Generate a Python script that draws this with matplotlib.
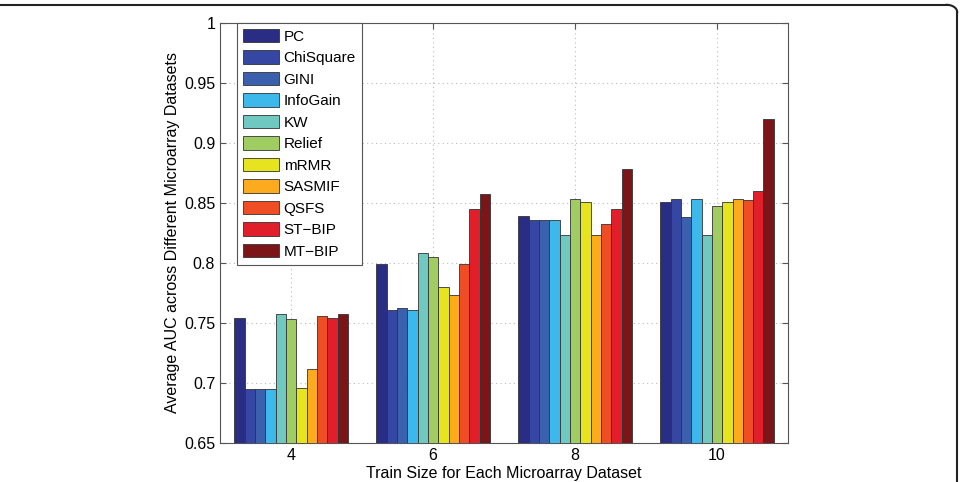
import matplotlib
matplotlib.use("Agg")
import matplotlib.pyplot as plt
import numpy as np
from matplotlib.lines import Line2D

plt.rcParams['font.family'] = ['Liberation Sans', 'DejaVu Sans']

train_sizes = ["4", "6", "8", "10"]
methods = ["PC", "ChiSquare", "GINI", "InfoGain", "KW", "Relief", "mRMR",
           "SASMIF", "QSFS", "ST\u2212BIP", "MT\u2212BIP"]
colors = ["#2a2d84", "#3547a3", "#3b60ae", "#3db8ea", "#6fc9c0", "#9fcd62",
          "#e6e41e", "#fbab1d", "#ef4d24", "#e01f2b", "#7c1517"]

auc_pc        = [0.754, 0.799, 0.839, 0.851]
auc_chisquare = [0.695, 0.761, 0.836, 0.853]
auc_gini      = [0.695, 0.762, 0.836, 0.838]
auc_infogain  = [0.695, 0.761, 0.836, 0.853]
auc_kw        = [0.757, 0.808, 0.823, 0.823]
auc_relief    = [0.753, 0.805, 0.853, 0.847]
auc_mrmr      = [0.696, 0.780, 0.851, 0.851]
auc_sasmif    = [0.712, 0.773, 0.823, 0.853]
auc_qsfs      = [0.756, 0.799, 0.832, 0.852]
auc_stbip     = [0.754, 0.845, 0.845, 0.860]
auc_mtbip     = [0.757, 0.857, 0.878, 0.920]

series = [auc_pc, auc_chisquare, auc_gini, auc_infogain, auc_kw, auc_relief,
          auc_mrmr, auc_sasmif, auc_qsfs, auc_stbip, auc_mtbip]

fig = plt.figure(figsize=(9.61, 4.82), dpi=100)
ax = fig.add_axes([0.229, 0.081, 0.591, 0.872])

x = np.arange(1, len(train_sizes) + 1)
n = len(series)
group_w = 0.8
w = group_w / n
for i, (vals, c, lab) in enumerate(zip(series, colors, methods)):
    pos = x - group_w / 2 + w * (i + 0.5)
    ax.bar(pos, vals, width=w, color=c, edgecolor="#333333", linewidth=0.6,
           label=lab, zorder=3)

ax.set_xlim(0.5, 4.5)
ax.set_ylim(0.65, 1.0)
ax.set_xticks(x)
ax.set_xticklabels(train_sizes)
ax.set_yticks([0.65, 0.7, 0.75, 0.8, 0.85, 0.9, 0.95, 1.0])
ax.set_yticklabels(["0.65", "0.7", "0.75", "0.8", "0.85", "0.9", "0.95", "1"])
ax.grid(True, linestyle=(0, (1, 3)), color="#bbbbbb", linewidth=0.8, zorder=0)
ax.tick_params(direction="in", length=4, labelsize=11.5, top=True, right=True,
               color="#555555")
for s in ax.spines.values():
    s.set_color("#555555")
    s.set_linewidth(0.8)

ax.set_xlabel("Train Size for Each Microarray Dataset", fontsize=11.5, labelpad=2)
ax.set_ylabel("Average AUC across Different Microarray Datasets", fontsize=11.5,
              labelpad=3)

leg = ax.legend(loc="upper left", bbox_to_anchor=(0.03, 1.0), fontsize=11,
                handlelength=2.35, handleheight=1.0, labelspacing=0.42,
                handletextpad=0.3, borderpad=0.4, fancybox=False,
                framealpha=1, edgecolor="#555555", borderaxespad=0)
leg.get_frame().set_linewidth(0.8)

# journal-style frame: top and right edges with rounded corner
fig.add_artist(Line2D([0.0, 0.985], [0.99, 0.99], transform=fig.transFigure,
                      color="#222222", linewidth=1.5))
fig.add_artist(Line2D([0.996, 0.996], [0.975, 0.0], transform=fig.transFigure,
                      color="#222222", linewidth=1.5))
theta = np.linspace(0, np.pi / 2, 20)
rx, ry = 0.011, 0.015
cx, cy = 0.996 - rx, 0.99 - ry
fig.add_artist(Line2D(cx + rx * np.cos(theta), cy + ry * np.sin(theta),
                      transform=fig.transFigure, color="#222222", linewidth=1.5))

fig.savefig("out.png", dpi=100)
